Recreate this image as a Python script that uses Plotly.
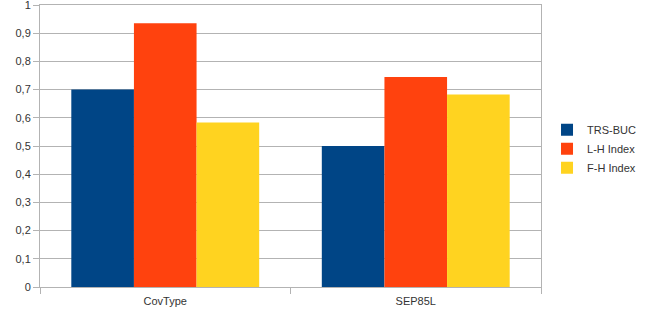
import plotly.graph_objects as go

categories = ["CovType", "SEP85L"]
series_names = ["TRS-BUC", "L-H Index", "F-H Index"]
trs_buc = [0.70, 0.50]
lh_index = [0.935, 0.745]
fh_index = [0.583, 0.683]
colors = ["#004586", "#ff420e", "#ffd320"]
y_ticks = [0, 0.1, 0.2, 0.3, 0.4, 0.5, 0.6, 0.7, 0.8, 0.9, 1]
y_tick_labels = ["0", "0,1", "0,2", "0,3", "0,4", "0,5", "0,6", "0,7", "0,8", "0,9", "1"]

fig = go.Figure()
for name, vals, col in zip(series_names, [trs_buc, lh_index, fh_index], colors):
    fig.add_trace(go.Bar(x=categories, y=vals, name=name, marker=dict(color=col, line=dict(width=0))))

fig.update_layout(
    width=654, height=315,
    margin=dict(l=40, r=113, t=5, b=28),
    paper_bgcolor="white", plot_bgcolor="white",
    barmode="group", bargap=0.25, bargroupgap=0,
    font=dict(family="Liberation Sans, Arial, sans-serif", size=11, color="#333333"),
    legend=dict(x=1.012, y=0.49, xanchor="left", yanchor="middle",
                font=dict(size=11, color="#333333"), itemwidth=30,
                tracegroupgap=0,
                bgcolor="rgba(0,0,0,0)"),
)
fig.update_yaxes(range=[0, 1], tickvals=y_ticks, ticktext=y_tick_labels,
                 showgrid=True, gridcolor="#b3b3b3", gridwidth=1,
                 showline=True, linecolor="#b3b3b3", linewidth=1, mirror=True,
                 ticks="outside", ticklen=6, tickcolor="#b3b3b3", zeroline=False,
                 ticklabeloverflow="allow", automargin=False,
                 tickfont=dict(size=11))
fig.update_xaxes(showgrid=False, showline=True, linecolor="#b3b3b3", linewidth=1, mirror=True,
                 ticks="outside", tickson="boundaries", ticklen=6, tickcolor="#b3b3b3",
                 ticklabelstandoff=4, automargin=False,
                 tickfont=dict(size=11))

fig.write_html("out.html")
